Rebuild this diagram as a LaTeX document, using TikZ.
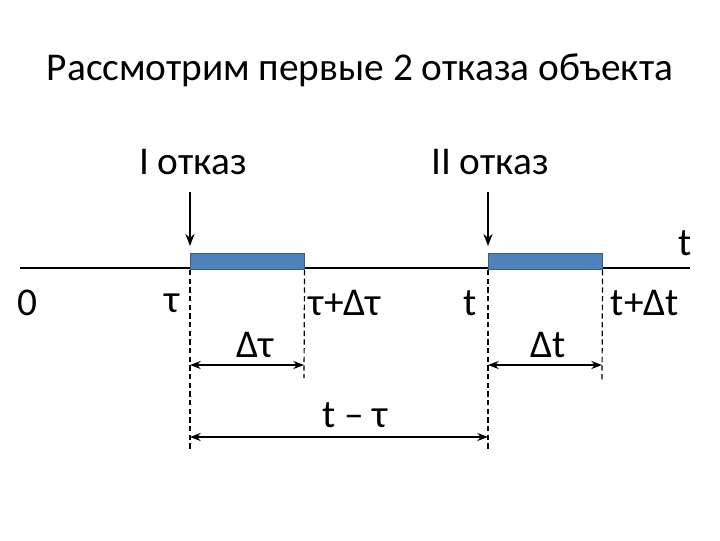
\documentclass[tikz,border=0pt]{standalone}
\usepackage{fontspec}
\setmainfont{Carlito}
\usetikzlibrary{arrows.meta}
\begin{document}
\begin{tikzpicture}[x=0.75pt,y=-0.75pt,
 lbl/.style={font=\fontsize{29.5}{34}\selectfont,inner sep=0pt},
 ttl/.style={font=\fontsize{29.5}{34}\selectfont,inner sep=0pt},
 ln/.style={line width=1.8pt},
 dsh/.style={dash pattern=on 4pt off 2.5pt,line width=0.9pt},
 dim/.style={line width=1.3pt,{Stealth[length=8pt]}-{Stealth[length=8pt]}},
 bar/.style={minimum width=85.5pt,minimum height=12pt,inner sep=0pt,anchor=south west,fill={rgb,255:red,79;green,129;blue,189},draw={rgb,255:red,56;green,93;blue,138}}]
\useasboundingbox (0,0) rectangle (720,540);
\node[ttl] (title) at (360,70) {Рассмотрим первые 2 отказа объекта};
\node[lbl] (o1) at (193,162) {I отказ};
\node[lbl] (o2) at (490,162) {II отказ};
\coordinate (a1s) at (190,192); \coordinate (a1e) at (190,246);
\coordinate (a2s) at (488,192); \coordinate (a2e) at (488,246);
\draw[ln,-{Stealth[length=9pt]}] (a1s) -- (a1e);
\draw[ln,-{Stealth[length=9pt]}] (a2s) -- (a2e);
\coordinate (x0) at (20,268); \coordinate (x1) at (690,268);
\draw[ln] (x0) -- (x1);
\node[lbl] (tt) at (685,243) {t};
\node[bar] (b1) at (190,270) {};
\node[bar] (b2) at (488,270) {};
\coordinate (d1) at (190,450); \coordinate (d2) at (304,378);
\coordinate (d3) at (488,450); \coordinate (d4) at (602,380);
\draw[dsh] (b1.south west) -- (d1);
\draw[dsh] (b1.south east) -- (d2);
\draw[dsh] (b2.south west) -- (d3);
\draw[dsh] (b2.south east) -- (d4);
\node[lbl] (l0) at (27,303) {0};
\node[lbl] (lt) at (172,303) {τ};
\node[lbl] (ldt) at (255,345) {Δτ};
\node[lbl] (ltdt) at (345,303) {τ+Δτ};
\node[lbl] (lt2) at (470,303) {t};
\node[lbl] (ldt2) at (548,345) {Δt};
\node[lbl] (ltdt2) at (645,303) {t+Δt};
\node[lbl] (ltm) at (355,415) {t – τ};
\coordinate (m1a) at (190,365); \coordinate (m1b) at (304,365);
\coordinate (m2a) at (488,365); \coordinate (m2b) at (602,365);
\coordinate (m3a) at (190,437); \coordinate (m3b) at (488,437);
\draw[dim] (m1a) -- (m1b);
\draw[dim] (m2a) -- (m2b);
\draw[dim] (m3a) -- (m3b);
\end{tikzpicture}
\end{document}
